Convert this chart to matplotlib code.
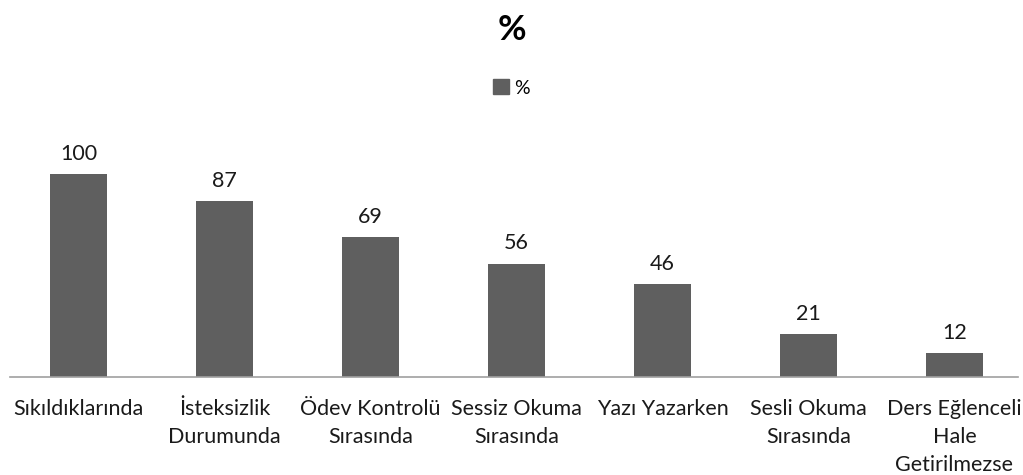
import matplotlib
matplotlib.use("Agg")
import matplotlib.pyplot as plt
from matplotlib.patches import Patch

categories = ["Sıkıldıklarında", "İsteksizlik\nDurumunda", "Ödev Kontrolü\nSırasında",
              "Sessiz Okuma\nSırasında", "Yazı Yazarken", "Sesli Okuma\nSırasında",
              "Ders Eğlenceli\nHale\nGetirilmezse"]
values = [100, 87, 69, 56, 46, 21, 12]
series_name = "%"

plt.rcParams['font.family'] = ['Lato', 'DejaVu Sans']

fig = plt.figure(figsize=(10.23, 4.75), dpi=100)
ax = fig.add_axes([10/1023, 98/475, 1008/1023, 239/475])
x = list(range(len(categories)))
ax.bar(x, values, width=0.39, color="#5f5f5f", label=series_name)
ax.set_xlim(-0.469, 6.435)
ax.set_ylim(0, 118)
for xi, v in zip(x, values):
    ax.text(xi, v + 5, str(v), ha="center", va="bottom", fontsize=15.5, color="#1a1a1a")
ax.set_xticks(x)
ax.set_xticklabels(categories, fontsize=15.5, color="#1a1a1a", linespacing=1.5)
ax.tick_params(axis="x", length=0, pad=16)
ax.set_yticks([])
for s in ["top", "right", "left"]:
    ax.spines[s].set_visible(False)
ax.spines["bottom"].set_color("#a0a0a0")
ax.spines["bottom"].set_linewidth(1.2)

fig.text(0.5, 1 - 30/475, "%", ha="center", va="center", fontsize=25, fontweight="bold")
fig.legend(handles=[Patch(color="#5f5f5f", label=series_name)], loc="center",
           bbox_to_anchor=(0.5, 1 - 88/475), frameon=False, fontsize=14,
           handlelength=0.8, handleheight=0.8, handletextpad=0.3)

fig.savefig("out.png", dpi=100)
